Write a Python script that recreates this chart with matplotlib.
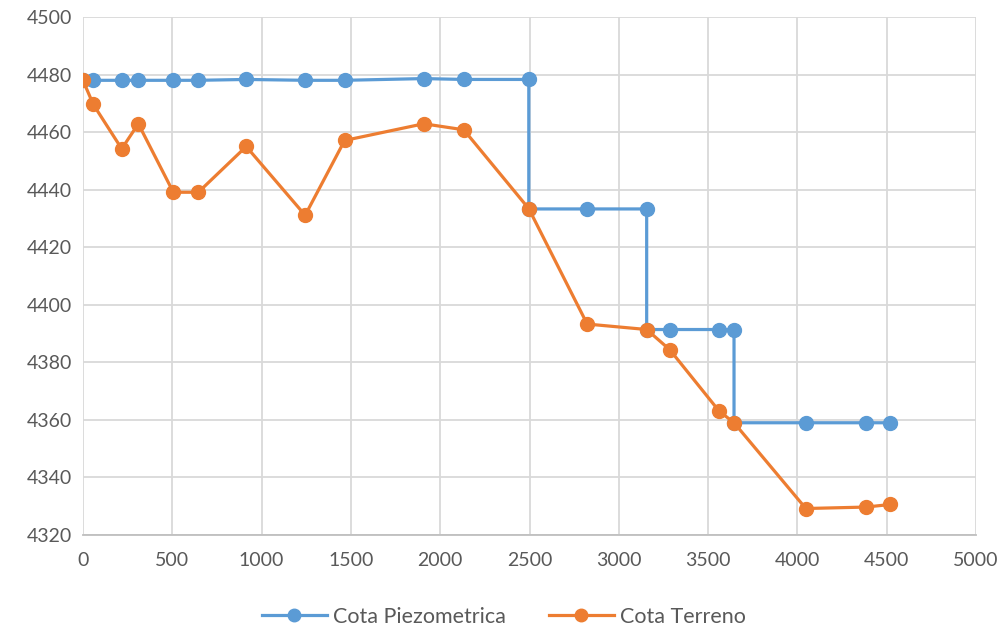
import matplotlib
matplotlib.use("Agg")
import matplotlib.pyplot as plt
from matplotlib import font_manager

# Progresivas (m) de cada punto
dist = [0, 58, 217, 310, 506, 646, 914, 1244, 1465, 1908, 2132, 2496,
        2823, 3156, 3285, 3561, 3645, 4047, 4383, 4520]

# Cota piezometrica: escalones en 2496, 3156 y 3645
piezo_x = [0, 58, 217, 310, 506, 646, 914, 1244, 1465, 1908, 2132, 2496,
           2496, 2823, 3156, 3156, 3285, 3561, 3645, 3645, 4047, 4383, 4520]
piezo_y = [4478, 4478, 4478, 4478, 4478, 4478, 4478.3, 4478, 4478, 4478.6, 4478.3, 4478.3,
           4433.3, 4433.3, 4433.3, 4391.4, 4391.4, 4391.4, 4391.4, 4359, 4359, 4359, 4359]

terreno = [4478, 4469.6, 4454.2, 4462.9, 4439.1, 4439.1, 4455, 4431.1, 4457.1, 4462.9,
           4460.8, 4433.4, 4393.3, 4391.4, 4384.4, 4363.1, 4359, 4329.2, 4329.7, 4330.6]

x_ticks = list(range(0, 5001, 500))
y_ticks = list(range(4320, 4501, 20))

BLUE = "#5B9BD5"
ORANGE = "#ED7D31"
GRID = "#D9D9D9"

names = {f.name for f in font_manager.fontManager.ttflist}
font = "Liberation Sans Narrow" if "Liberation Sans Narrow" in names else "Lato"
plt.rcParams["font.family"] = [font, "DejaVu Sans"]

fig = plt.figure(figsize=(10.08, 6.32), dpi=100)
ax = fig.add_axes([0.0823, 0.1535, 0.886, 0.8196])

ax.plot(piezo_x, piezo_y, color=BLUE, lw=2.3, marker="o", ms=10,
        label="Cota Piezometrica", zorder=3)
ax.plot(dist, terreno, color=ORANGE, lw=2.3, marker="o", ms=10,
        label="Cota Terreno", zorder=4)

ax.set_xlim(0, 5000)
ax.set_ylim(4320, 4500)
ax.set_xticks(x_ticks)
ax.set_yticks(y_ticks)
ax.grid(True, color=GRID, lw=1.3, zorder=0)
ax.set_axisbelow(True)
for side in ["top", "right", "left"]:
    ax.spines[side].set_visible(False)
ax.spines["bottom"].set_color("#BFBFBF")
ax.spines["bottom"].set_linewidth(1.3)
ax.tick_params(length=0, labelsize=14, colors="#595959", pad=12)
ax.tick_params(axis="y", pad=8)

fig.legend(loc="lower center", bbox_to_anchor=(0.5, -0.022), ncol=2, frameon=False,
           fontsize=15.5, labelcolor="#595959", handlelength=3.0, columnspacing=2.0,
           handletextpad=0.3, markerscale=0.9)

fig.savefig("out.png", dpi=100)
